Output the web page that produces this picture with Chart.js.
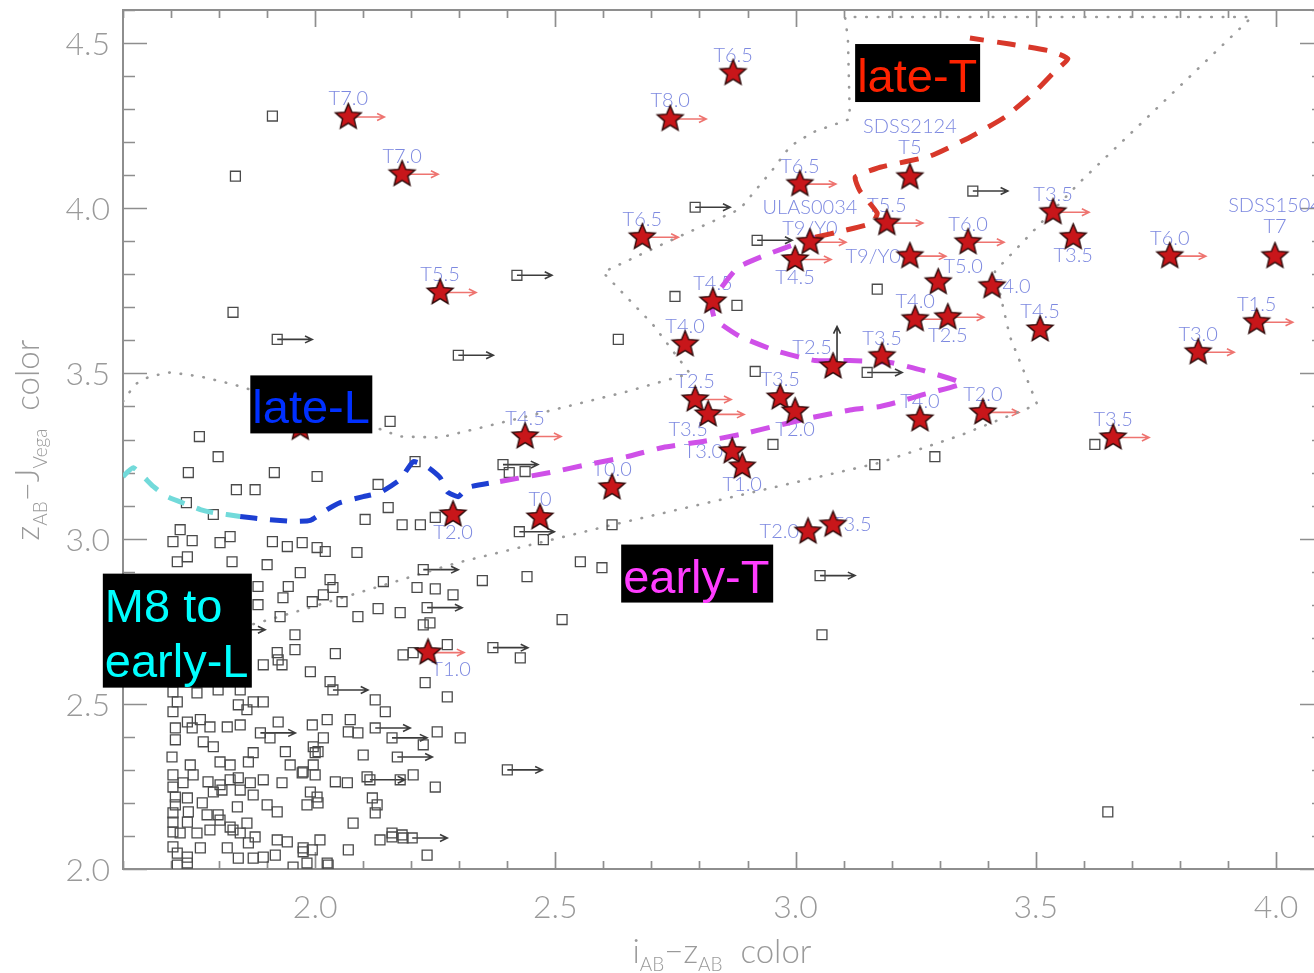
<!DOCTYPE html>
<html>
<head>
<meta charset="utf-8">
<title>i-z vs z-J colour diagram</title>
<script src="https://cdn.jsdelivr.net/npm/chart.js@4.4.1/dist/chart.umd.min.js"></script>
<style>
  html, body { margin: 0; padding: 0; background: #ffffff; overflow: hidden; }
  #wrap { width: 1330px; height: 973px; }
</style>
</head>
<body>
<div id="wrap"><canvas id="c" width="1330" height="973"></canvas></div>
<script>
// ---------- axis tick values ----------
const xTickValues = [2.0, 2.5, 3.0, 3.5, 4.0];
const yTickValues = [2.0, 2.5, 3.0, 3.5, 4.0, 4.5];

// ---------- T dwarfs (stars) ----------
const starX = [2.069,2.181,2.870,2.739,3.009,2.681,2.260,3.238,3.030,2.999,3.190,3.238,3.359,3.297,3.409,3.249,3.317,3.509,3.536,3.578,3.779,3.998,3.960,3.838,3.661,3.390,3.259,3.180,3.078,2.828,2.770,2.791,2.818,2.968,2.999,2.868,2.889,2.437,2.618,2.468,2.287,3.026,3.078,2.235,1.969];
const starY = [4.276,4.103,4.409,4.270,4.073,3.912,3.745,4.094,3.897,3.845,3.955,3.855,3.897,3.776,3.764,3.664,3.670,3.633,3.988,3.912,3.855,3.855,3.655,3.564,3.306,3.382,3.361,3.552,3.521,3.718,3.588,3.421,3.376,3.427,3.385,3.264,3.218,3.309,3.155,3.064,3.073,3.021,3.042,2.655,3.335];
const starType = ['T7.0','T7.0','T6.5','T8.0','T6.5','T6.5','T5.5','SDSS2124\nT5','ULAS0034\nT9/Y0','T4.5','T5.5','T9/Y0','T6.0','T5.0','T4.0','T4.0','T2.5','T4.5','T3.5','T3.5','T6.0','SDSS1504\nT7','T1.5','T3.0','T3.5','T2.0','T4.0','T3.5','T2.5','T4.5','T4.0','T2.5','T3.5','T3.5','T2.0','T3.0','T1.0','T4.5','T0.0','T0','T2.0','T2.0','T3.5','T1.0',''];
// where each spectral-type label sits around its star
const starLabelSide = ['a','a','a','a','a','a','a','A','n','b','a','l','a','ar','r','a','b','a','a','b','a','A','a','a','a','a','a','a','al','a','a','a','bl','a','b','l','b','a','a','a','b','l','r','br','a'];
// limits: 'r' = lower limit in i-z (arrow right), 'u' = lower limit in z-J (arrow up)
const starLimit = ['r','r','','r','r','r','r','','r','r','r','r','r','','','r','r','','r','','r','','r','r','r','r','','','u','','','r','r','','','','','r','','','','','','r',''];

// ---------- field dwarfs (open squares) ----------
const fieldX = [
  1.911,1.834,1.829,2.749,2.878,2.631,3.170,2.916,2.953,3.165,3.290,3.623,3.650,3.055,2.618,2.597,2.552,2.514,2.441,2.348,2.287,2.475,2.427,2.275,2.302,2.275,2.229,2.204,2.183,2.254,2.225,2.250,2.233,2.404,2.437,
  1.759,1.798,1.736,1.915,2.004,1.836,1.875,1.732,1.788,2.104,2.131,2.156,2.208,2.152,2.181,2.219,2.250,1.719,1.704,1.744,1.802,1.823,1.911,1.942,1.973,2.004,2.021,2.087,1.734,1.713,1.827,1.900,1.969,2.142,2.031,2.212,2.250,1.881,1.944,2.017,2.037,1.994,2.056,1.933,1.881,2.089,2.131,2.177,2.225,2.239,1.927,1.958,1.958,2.042,1.921,1.990,1.892,1.931,2.125,2.146,2.031,1.923,
  1.704,1.754,1.798,1.844,1.713,1.840,1.871,1.892,1.858,1.704,1.734,1.761,1.923,1.994,2.025,2.073,2.069,2.089,1.709,1.744,1.781,1.817,1.844,1.906,2.017,1.709,1.767,1.788,1.996,2.006,1.871,1.938,2.100,1.702,1.740,1.802,1.823,1.861,1.948,1.973,1.996,2.000,1.704,1.746,1.777,1.802,1.823,1.840,1.865,1.892,1.931,2.042,2.067,2.108,2.204,2.177,1.704,1.725,1.709,1.734,1.788,1.806,1.844,1.871,1.990,2.006,1.983,2.119,2.129,2.125,1.709,1.765,1.838,1.900,1.921,1.704,1.736,1.775,1.798,1.704,1.734,1.802,1.823,1.858,2.079,1.704,1.719,1.754,1.781,1.829,1.844,1.875,1.921,1.942,2.010,2.135,2.160,2.183,1.704,1.761,1.817,1.861,1.871,1.892,1.917,1.975,1.994,2.069,1.713,1.734,1.713,1.734,1.840,1.954,1.983,2.027,
  2.000,1.975,2.004,1.975,2.160,2.181,2.025
];
const fieldY = [
  4.279,4.097,3.685,3.733,3.706,3.603,3.755,3.506,3.285,3.224,3.248,3.285,2.173,2.709,3.042,2.912,2.930,2.755,2.885,2.873,2.830,2.997,2.639,2.521,2.397,2.679,2.564,2.655,2.648,2.415,2.376,2.248,2.042,3.200,3.203,
  3.309,3.248,3.200,3.200,3.188,3.148,3.148,3.109,3.073,3.058,3.164,3.355,3.233,3.094,3.042,3.042,3.064,3.027,2.991,2.994,2.988,3.006,2.991,2.976,2.988,2.973,2.961,2.958,2.945,2.930,2.930,2.921,2.897,2.870,2.876,2.852,2.848,2.855,2.855,2.830,2.852,2.809,2.809,2.821,2.800,2.764,2.788,2.776,2.739,2.745,2.764,2.709,2.664,2.652,2.655,2.597,2.618,2.618,2.512,2.476,2.567,2.633,
  2.536,2.533,2.542,2.542,2.506,2.497,2.506,2.506,2.482,2.476,2.445,2.452,2.445,2.436,2.452,2.452,2.415,2.412,2.427,2.427,2.430,2.430,2.436,2.397,2.397,2.391,2.385,2.370,2.370,2.355,2.352,2.355,2.345,2.339,2.315,2.324,2.315,2.324,2.315,2.291,2.315,2.285,2.285,2.285,2.264,2.255,2.270,2.276,2.261,2.270,2.261,2.264,2.261,2.279,2.285,2.270,2.248,2.261,2.218,2.215,2.233,2.239,2.239,2.224,2.233,2.200,2.194,2.215,2.194,2.170,2.194,2.200,2.188,2.194,2.173,2.170,2.173,2.164,2.164,2.142,2.142,2.148,2.127,2.139,2.139,2.112,2.109,2.109,2.118,2.118,2.109,2.097,2.088,2.082,2.088,2.088,2.097,2.094,2.067,2.064,2.064,2.079,2.033,2.036,2.042,2.052,2.058,2.058,2.048,2.036,2.012,2.018,2.033,2.006,2.018,2.012,
  2.352,2.294,2.218,2.064,2.109,2.103,2.018
];
// field dwarfs that are lower limits in i-z
const fieldLimX = [2.791,2.420,1.921,2.298,2.920,3.369,3.149,3.051,2.425,2.370,2.400,2.225,2.233,2.037,2.125,2.160,2.171,2.114,2.202,1.886,1.823,2.391];
const fieldLimY = [4.003,3.797,3.603,3.555,3.903,4.052,3.503,2.888,3.021,2.670,2.300,2.906,2.791,2.542,2.427,2.397,2.339,2.270,2.094,2.412,2.724,3.224];

// ---------- spectral-type sequence ----------
const seqM8X = [1.600,1.621,1.663,1.692,1.734,1.761,1.788,1.844];
const seqM8Y = [3.188,3.215,3.158,3.127,3.103,3.088,3.079,3.067];
const seqLateLX = [1.844,1.900,1.954,1.990,2.025,2.052,2.100,2.135,2.177,2.204,2.233,2.260,2.275,2.298,2.318,2.385];
const seqLateLY = [3.067,3.058,3.052,3.055,3.088,3.109,3.127,3.139,3.179,3.233,3.218,3.185,3.142,3.127,3.155,3.173];
const seqEarlyTX = [2.385,2.489,2.566,2.649,2.724,2.807,2.884,2.953,3.036,3.120,3.176,3.217,3.265,3.290,3.347,3.265,3.197,3.113,3.041,2.962,2.884,2.832,2.826,2.843,2.880,2.937,2.999,3.041];
const seqEarlyTY = [3.173,3.200,3.224,3.248,3.276,3.294,3.315,3.339,3.367,3.391,3.400,3.415,3.436,3.445,3.470,3.509,3.533,3.539,3.539,3.567,3.612,3.664,3.709,3.755,3.821,3.858,3.891,3.912];
const seqLateTX = [3.041,3.103,3.159,3.170,3.134,3.124,3.176,3.280,3.363,3.436,3.498,3.540,3.567,3.530,3.446,3.363];
const seqLateTY = [3.912,3.933,3.955,3.985,4.052,4.094,4.124,4.158,4.215,4.276,4.352,4.415,4.452,4.476,4.497,4.515];

// ---------- selection boundary (dotted) ----------
const boundX = [1.600,1.625,1.656,1.698,1.760,1.829,1.969,2.121,2.177,2.260,2.433,2.649,2.780,2.703,2.599,2.745,2.884,2.953,2.989,3.036,3.113,3.109,3.103,3.950,3.592,3.415,3.446,3.503,3.342,3.176,2.620,2.296,1.954,1.600];
const boundY = [3.415,3.467,3.491,3.503,3.491,3.467,3.406,3.339,3.309,3.306,3.367,3.445,3.500,3.648,3.806,3.906,3.997,4.118,4.188,4.230,4.270,4.512,4.579,4.579,4.079,3.809,3.612,3.406,3.312,3.230,3.042,2.927,2.776,2.627];

// ---------- region tags ----------
const tagText = [['late-T'], ['late-L'], ['early-T'], ['M8 to', 'early-L']];
const tagColor = ['#ff2200', '#0030ff', '#ff3dff', '#00ffff'];
const tagAnchorX = [3.124, 1.865, 2.637, 1.558];
const tagAnchorY = [4.497, 3.494, 2.982, 2.894];
const tagBoxW = [125, 122, 152, 149];

const titleXSegs = [['i', 0], ['AB', 1], ['\u2212z', 0], ['AB', 1], ['  color', 0]];
const titleYSegs = [['z', 0], ['AB', 1], ['\u2212J', 0], ['Vega', 1], ['  color', 0]];

// ---------- helpers ----------
const pts = (xs, ys) => xs.map((x, i) => ({ x: x, y: ys[i] }));

function makeStar(r) {
  const s = Math.ceil(r * 2 + 4);
  const c = document.createElement('canvas');
  c.width = s; c.height = s;
  const g = c.getContext('2d');
  g.translate(s / 2, s / 2);
  g.beginPath();
  for (let i = 0; i < 10; i++) {
    const rad = i % 2 ? r * 0.45 : r;
    const a = -Math.PI / 2 + i * Math.PI / 5;
    g.lineTo(rad * Math.cos(a), rad * Math.sin(a));
  }
  g.closePath();
  g.fillStyle = '#c8161a';
  g.fill();
  g.lineWidth = 1.4;
  g.strokeStyle = '#2e0a0a';
  g.stroke();
  return c;
}
const starImg = makeStar(13.5);

function arrow(ctx, x0, y0, x1, y1, color) {
  const ang = Math.atan2(y1 - y0, x1 - x0);
  const h = 8;
  ctx.strokeStyle = color;
  ctx.beginPath();
  ctx.moveTo(x0, y0); ctx.lineTo(x1, y1);
  ctx.moveTo(x1 - h * Math.cos(ang - 0.45), y1 - h * Math.sin(ang - 0.45));
  ctx.lineTo(x1, y1);
  ctx.lineTo(x1 - h * Math.cos(ang + 0.45), y1 - h * Math.sin(ang + 0.45));
  ctx.stroke();
}

// frame with inward ticks on every side, plus the tick labels
const framePlugin = {
  id: 'frame',
  beforeDatasetsDraw(chart) {
    const { ctx, chartArea: a, scales: { x, y } } = chart;
    ctx.save();
    ctx.strokeStyle = '#8e8e8e';
    ctx.lineWidth = 2;
    ctx.strokeRect(a.left, a.top, a.right - a.left, a.bottom - a.top);
    ctx.lineWidth = 1.7;
    ctx.beginPath();
    for (let k = 16; k <= 41; k++) {
      const p = Math.round(x.getPixelForValue(k / 10)) + 0.5;
      const L = k % 5 === 0 ? 17 : 8;
      ctx.moveTo(p, a.bottom); ctx.lineTo(p, a.bottom - L);
      ctx.moveTo(p, a.top); ctx.lineTo(p, a.top + L);
    }
    for (let k = 20; k <= 46; k++) {
      const p = Math.round(y.getPixelForValue(k / 10)) + 0.5;
      const L = k % 5 === 0 ? 24 : 12;
      ctx.moveTo(a.left, p); ctx.lineTo(a.left + L, p);
      ctx.moveTo(a.right, p); ctx.lineTo(a.right - L, p);
    }
    ctx.stroke();

    ctx.fillStyle = '#9a9a9a';
    ctx.font = '300 32px Lato';
    ctx.textBaseline = 'alphabetic';
    ctx.textAlign = 'center';
    xTickValues.forEach(v => ctx.fillText(v.toFixed(1), x.getPixelForValue(v), a.bottom + 49));
    ctx.textAlign = 'right';
    yTickValues.forEach(v => ctx.fillText(v.toFixed(1), a.left - 13, y.getPixelForValue(v) + 12));
    ctx.restore();
  }
};

// limit arrows and spectral-type labels (beneath the markers)
const notesPlugin = {
  id: 'notes',
  beforeDatasetsDraw(chart) {
    const { ctx, chartArea: a, scales: { x, y } } = chart;
    ctx.save();
    ctx.beginPath();
    ctx.rect(a.left, a.top, a.right - a.left, a.bottom - a.top);
    ctx.clip();
    ctx.lineWidth = 1.6;
    fieldLimX.forEach((v, i) => {
      const px = x.getPixelForValue(v), py = y.getPixelForValue(fieldLimY[i]);
      arrow(ctx, px, py, px + 35, py, '#3c3c3c');
    });
    starX.forEach((v, i) => {
      const px = x.getPixelForValue(v), py = y.getPixelForValue(starY[i]);
      if (starLimit[i] === 'r') arrow(ctx, px, py, px + 36, py, '#ee7470');
      if (starLimit[i] === 'u') arrow(ctx, px + 4, py, px + 4, py - 40, '#333333');
    });
    ctx.font = '300 20px Lato';
    ctx.fillStyle = '#7d89e0';
    ctx.textBaseline = 'middle';
    starX.forEach((v, i) => {
      if (!starType[i]) return;
      const px = x.getPixelForValue(v), py = y.getPixelForValue(starY[i]);
      let ax = px, ay = py - 18, align = 'center';
      switch (starLabelSide[i]) {
        case 'A': ay = py - 30; break;
        case 'n': ay = py - 14; break;
        case 'b': ay = py + 18; break;
        case 'l': ax = px - 9; ay = py; align = 'right'; break;
        case 'r': ax = px - 1; ay = py; align = 'left'; break;
        case 'ar': ax = px + 25; ay = py - 16; break;
        case 'al': ax = px - 21; ay = py - 19; break;
        case 'bl': ax = px - 20; ay = py + 15; break;
        case 'br': ax = px + 23; ay = py + 17; break;
      }
      ctx.textAlign = align;
      const lines = starType[i].split('\n');
      lines.forEach((ln, k) => ctx.fillText(ln, ax, ay - (lines.length - 1 - k) * 21));
    });
    ctx.restore();
  }
};

function drawSegs(ctx, segs, mainFont, subFont, subDrop) {
  let total = 0;
  segs.forEach(s => { ctx.font = s[1] ? subFont : mainFont; total += ctx.measureText(s[0]).width; });
  let cx = -total / 2;
  segs.forEach(s => {
    ctx.font = s[1] ? subFont : mainFont;
    ctx.fillText(s[0], cx, s[1] ? subDrop : 0);
    cx += ctx.measureText(s[0]).width;
  });
}

// axis titles and black region tags
const overlayPlugin = {
  id: 'overlay',
  afterDraw(chart) {
    const { ctx, scales: { x, y } } = chart;
    ctx.save();
    ctx.fillStyle = '#9a9a9a';
    ctx.textBaseline = 'alphabetic';
    ctx.textAlign = 'left';
    const mainF = '300 33px Lato', subF = '300 19px Lato';
    ctx.save();
    ctx.translate(722, 963);
    drawSegs(ctx, titleXSegs, mainF, subF, 8);
    ctx.restore();
    ctx.save();
    ctx.translate(39, 440);
    ctx.rotate(-Math.PI / 2);
    drawSegs(ctx, titleYSegs, mainF, subF, 8);
    ctx.restore();

    tagText.forEach((lines, i) => {
      const left = x.getPixelForValue(tagAnchorX[i]);
      const top = y.getPixelForValue(tagAnchorY[i]);
      const h = 58 + (lines.length - 1) * 56;
      ctx.fillStyle = '#000000';
      ctx.fillRect(left, top, tagBoxW[i], h);
      ctx.fillStyle = tagColor[i];
      ctx.font = '47px "Liberation Sans", Arial, sans-serif';
      lines.forEach((ln, k) => ctx.fillText(ln, left + 2, top + 48 + k * 55));
    });
    ctx.restore();
  }
};

new Chart(document.getElementById('c'), {
  type: 'scatter',
  data: {
    datasets: [
      { label: 'T dwarfs', data: pts(starX, starY), pointStyle: starImg, pointRadius: 13, order: 0 },
      { label: 'late-T', data: pts(seqLateTX, seqLateTY), showLine: true, borderColor: '#d8382a', borderWidth: 5, borderDash: [19, 13], pointRadius: 0, tension: 0.15, order: 1 },
      { label: 'early-T', data: pts(seqEarlyTX, seqEarlyTY), showLine: true, borderColor: '#cf50e8', borderWidth: 5, borderDash: [19, 13], pointRadius: 0, tension: 0.15, order: 1 },
      { label: 'late-L', data: pts(seqLateLX, seqLateLY), showLine: true, borderColor: '#1d3fd2', borderWidth: 5, borderDash: [17, 13], pointRadius: 0, tension: 0.15, order: 1 },
      { label: 'M8 to early-L', data: pts(seqM8X, seqM8Y), showLine: true, borderColor: '#72dada', borderWidth: 5, borderDash: [17, 13], pointRadius: 0, tension: 0.15, order: 1 },
      { label: 'field limits', data: pts(fieldLimX, fieldLimY), pointStyle: 'rect', pointRadius: 7, borderColor: '#4a4a4a', borderWidth: 1.3, backgroundColor: 'rgba(0,0,0,0)', order: 2 },
      { label: 'field', data: pts(fieldX, fieldY), pointStyle: 'rect', pointRadius: 7, borderColor: '#4a4a4a', borderWidth: 1.3, backgroundColor: 'rgba(0,0,0,0)', order: 2 },
      { label: 'boundary', data: pts(boundX, boundY), showLine: true, borderColor: '#9a9a9a', borderWidth: 2.6, borderDash: [0.5, 11], borderCapStyle: 'round', pointRadius: 0, tension: 0, order: 3 }
    ]
  },
  options: {
    responsive: false,
    devicePixelRatio: 1,
    animation: false,
    events: [],
    layout: { autoPadding: false, padding: { top: 10, right: 6, left: 0, bottom: 0 } },
    plugins: { legend: { display: false }, tooltip: { enabled: false } },
    scales: {
      x: {
        type: 'linear', min: 1.6, max: 4.1,
        grid: { display: false, drawTicks: false },
        border: { display: false },
        ticks: { display: false },
        afterFit: s => { s.height = 104; }
      },
      y: {
        type: 'linear', min: 2.0, max: 4.6,
        grid: { display: false, drawTicks: false },
        border: { display: false },
        ticks: { display: false },
        afterFit: s => { s.width = 123; }
      }
    }
  },
  plugins: [framePlugin, notesPlugin, overlayPlugin]
});
</script>
</body>
</html>
